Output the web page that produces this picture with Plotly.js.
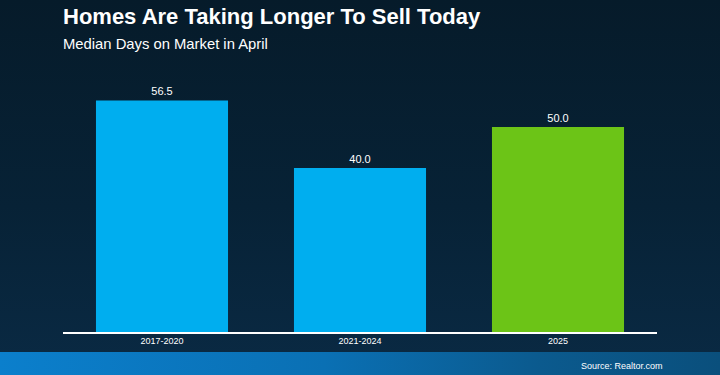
<!DOCTYPE html>
<html>
<head>
<meta charset="utf-8">
<script src="https://cdn.plot.ly/plotly-3.0.1.min.js"></script>
<style>
  html, body { margin: 0; padding: 0; width: 720px; height: 375px; overflow: hidden; }
  #wrap { position: relative; width: 720px; height: 375px;
    background: linear-gradient(180deg, #061b2a 0%, #072236 55%, #0a2a44 100%); }
  #strip { position: absolute; left: 0; top: 352px; width: 720px; height: 23px;
    background: linear-gradient(90deg, #0b7fcc 0%, #0a70b4 45%, #0b5a8e 75%, #0a4f7c 100%); }
  #chart { position: absolute; left: 0; top: 0; width: 720px; height: 375px; }
</style>
</head>
<body>
<div id="wrap"><div id="strip"></div><div id="chart"></div></div>
<script>
const categories = ["2017-2020", "2021-2024", "2025"];
const values = [56.5, 40.0, 50.0];
const barColors = ["#00aeef", "#00aeef", "#6cc417"];
const valueLabels = values.map(v => v.toFixed(1));

const font = "Liberation Sans, Arial, Helvetica, sans-serif";

const trace = {
  type: "bar",
  x: categories,
  y: values,
  marker: { color: barColors, line: { width: 0 } },
  text: valueLabels,
  textposition: "outside",
  cliponaxis: false,
  textfont: { color: "#ffffff", size: 11, family: font },
  hoverinfo: "skip"
};

const layout = {
  width: 720,
  height: 375,
  margin: { l: 63, r: 63, t: 80, b: 43 },
  paper_bgcolor: "rgba(0,0,0,0)",
  plot_bgcolor: "rgba(0,0,0,0)",
  bargap: 0.333,
  showlegend: false,
  title: {
    text: "<b>Homes Are Taking Longer To Sell Today</b>",
    font: { family: font, size: 22, color: "#ffffff" },
    xref: "container", yref: "container",
    x: 63 / 720, xanchor: "left",
    y: 1 - 16 / 375, yanchor: "middle"
  },
  xaxis: {
    type: "category",
    showgrid: false,
    zeroline: false,
    showline: true,
    linecolor: "#ffffff",
    linewidth: 1.5,
    ticks: "",
    tickfont: { family: font, size: 9, color: "#ffffff" },
    fixedrange: true
  },
  yaxis: {
    range: [0, 61.5],
    visible: false,
    showgrid: false,
    zeroline: false,
    fixedrange: true
  },
  annotations: [
    {
      text: "Median Days on Market in April",
      xref: "paper", yref: "paper",
      x: 0, xanchor: "left", xshift: -2,
      y: (332 - 44) / 252, yanchor: "middle",
      showarrow: false,
      font: { family: font, size: 14.8, color: "#ffffff" }
    },
    {
      text: "Source: Realtor.com",
      xref: "paper", yref: "paper",
      x: (665 - 63) / 594, xanchor: "right",
      y: (332 - 366) / 252, yanchor: "middle",
      showarrow: false,
      font: { family: font, size: 9, color: "#ffffff" }
    }
  ]
};

Plotly.newPlot("chart", [trace], layout, { displayModeBar: false, staticPlot: true });
</script>
</body>
</html>
